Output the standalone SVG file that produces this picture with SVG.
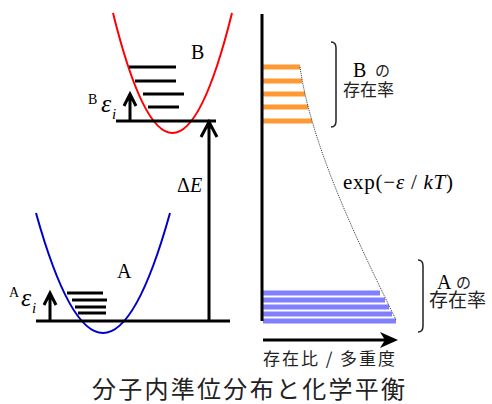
<svg xmlns="http://www.w3.org/2000/svg" width="492" height="404" viewBox="0 0 492 404">
<style>
.lvl{stroke:#000;stroke-width:3;fill:none}
.ser{font-family:"Liberation Serif","Times New Roman",serif;fill:#000}
.it{font-style:italic}
.cjk{font-family:"Noto Sans CJK JP","Noto Sans CJK SC",sans-serif;fill:#222}
.brace{stroke:#222;stroke-width:1.5;fill:none}
.ob{stroke:#ff9933;stroke-width:5}
.bb{stroke:#8080ff;stroke-width:5}
</style>
<rect width="492" height="404" fill="#fff"/>
<g id="molB">
<path d="M113,13 Q172.5,253 232,13" stroke="#ff0000" stroke-width="2" fill="none"/>
<path class="lvl" d="M129,67H176M135,81H176M143,94H184M148,107H179"/>
<path class="lvl" d="M116,121H216"/>
<path class="lvl" d="M130,121V95M124,106L130,94L136,106"/>
<text class="ser" x="191" y="59" font-size="20">B</text>
<text class="ser" x="88" y="104" font-size="14">B</text>
<text class="ser it" x="101" y="112" font-size="26">ε</text>
<text class="ser it" x="112" y="119" font-size="15">i</text>
</g>
<g id="molA">
<path d="M36,213 Q103,453 170,213" stroke="#0000cc" stroke-width="2" fill="none"/>
<path class="lvl" d="M67,293H103M72,300H107M75,307H106M78,313H106"/>
<path class="lvl" d="M36,321H230"/>
<path class="lvl" d="M50,321V294M44,305L50,293L56,305"/>
<text class="ser" x="117" y="278" font-size="20">A</text>
<text class="ser" x="9" y="297" font-size="14">A</text>
<text class="ser it" x="21" y="306" font-size="26">ε</text>
<text class="ser it" x="32" y="313" font-size="15">i</text>
</g>
<g id="deltaE">
<path class="lvl" d="M209,321V123M201,137L209,122L217,137"/>
<text class="ser" x="177" y="192" font-size="20">Δ<tspan class="it">E</tspan></text>
</g>
<g id="popB">
<path class="ob" d="M263,67H300M263,81H302M263,94H305M263,107H308M263,121H312"/>
<path class="brace" d="M331,42 Q336,42 336,48 L336,121 Q336,127 331,127"/>
<text><tspan class="ser" x="353" y="77" font-size="20">B</tspan><tspan class="cjk" x="375" y="76" font-size="15">の</tspan><tspan class="cjk" x="343" y="96" font-size="17">存在率</tspan></text>
</g>
<g id="popA">
<path class="bb" d="M263,293H380M263,300H385M263,307H389M263,314H392M263,321H396"/>
<path class="brace" d="M418,260 Q423,260 423,266 L423,326 Q423,332 418,332"/>
<text><tspan class="ser" x="437" y="289" font-size="20">A</tspan><tspan class="cjk" x="456" y="288" font-size="15">の</tspan><tspan class="cjk" x="429" y="307" font-size="19">存在率</tspan></text>
</g>
<g id="connectors">
<path d="M262,14V321" stroke="#000" stroke-width="3"/>
<path d="M300,67 C312,150 362,250 396,320" stroke="#333" stroke-width="1" stroke-dasharray="1,1" fill="none"/>
<path d="M263,340H388" stroke="#000" stroke-width="3"/>
<path d="M398,340L380,332L385,340L380,348Z" fill="#000"/>
</g>
<text class="ser" x="343" y="189" font-size="21" textLength="110" lengthAdjust="spacing">exp(−<tspan class="it">ε</tspan> / <tspan class="it">kT</tspan>)</text>
<text class="cjk" x="263" y="365" font-size="17" textLength="132" lengthAdjust="spacing">存在比 / 多重度</text>
<text class="cjk" x="92" y="398" font-size="24" textLength="313" lengthAdjust="spacing">分子内準位分布と化学平衡</text>
</svg>
